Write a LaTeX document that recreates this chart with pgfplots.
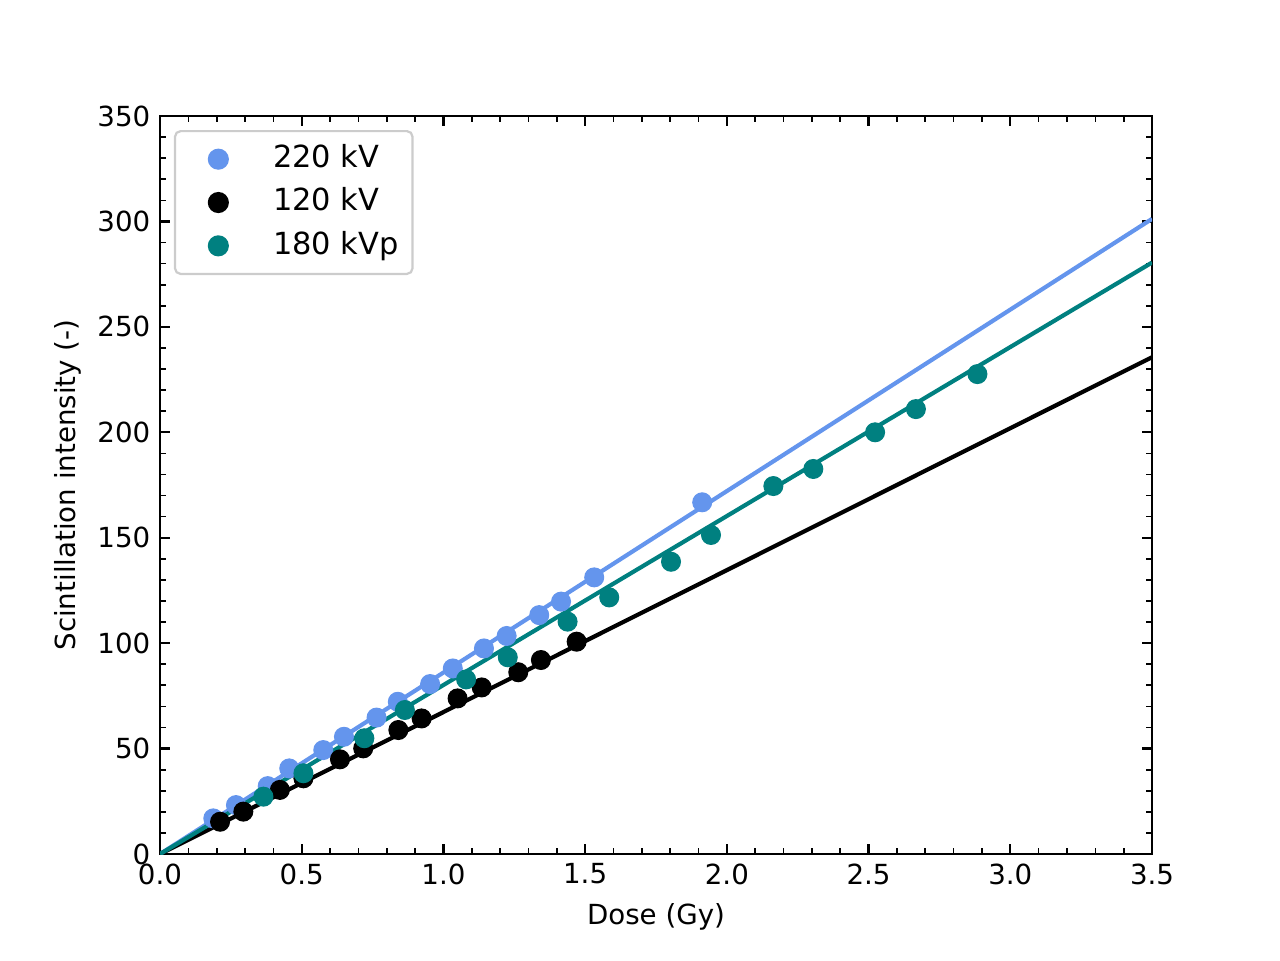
\documentclass[border=0pt]{standalone}
\usepackage{pgfplots}
\pgfplotsset{compat=1.18}
\usepackage{fontspec}
\setmainfont{DejaVu Sans}
\definecolor{cblue}{HTML}{6495ED}
\definecolor{cteal}{HTML}{008080}
\definecolor{lgedge}{gray}{0.8}
\begin{document}
\begin{tikzpicture}
\begin{axis}[
  scale only axis,
  width=357.12bp, height=265.68bp,
  xmin=0, xmax=3.5, ymin=0, ymax=350,
  xtick={0,0.5,...,3.5},
  ytick={0,50,...,350},
  minor x tick num=4,
  minor y tick num=4,
  tick align=inside,
  xtick pos=both, ytick pos=both,
  major tick length=3.5bp, minor tick length=2bp,
  every major tick/.style={line width=0.8bp, black},
  every minor tick/.style={line width=0.6bp, black},
  axis line style={line width=0.8bp},
  tick label style={font=\fontsize{10}{12}\selectfont},
  /pgf/number format/assume math mode=true,
  xticklabel style={/pgf/number format/.cd, fixed, fixed zerofill, precision=1},
  yticklabel style={/pgf/number format/.cd, fixed, precision=0},
  scaled ticks=false,
  xlabel={Dose (Gy)},
  ylabel={Scintillation intensity (-)},
  label style={font=\fontsize{10}{12}\selectfont},
  xlabel style={yshift=0bp},
  ylabel style={yshift=-1bp},
  legend cell align=left,
  legend style={
    at={(rel axis cs:0.014,0.981)}, anchor=north west,
    draw=lgedge, line width=0.8bp, rounded corners=2bp,
    fill=white,
    font=\fontsize{11}{13}\selectfont,
    inner xsep=4bp, inner ysep=3.8bp,
    row sep=3bp,
    nodes={inner sep=1bp, text height=8.3bp, text depth=2.3bp},
  },
  legend image code/.code={\draw[#1] plot coordinates {(11.2bp,0cm)};\path (0cm,0cm) (29.5bp,0cm);},
]
\addplot[only marks, mark=*, mark size=3.4bp, cblue, mark options={draw=cblue, fill=cblue}] coordinates {
(0.188,16.9) (0.268,23.2) (0.380,32.2) (0.456,40.6) (0.576,49.3) (0.649,55.6)
(0.764,64.7) (0.839,72.2) (0.953,80.6) (1.033,88.0) (1.143,97.5) (1.223,103.4)
(1.338,113.3) (1.415,119.7) (1.532,131.2) (1.913,166.8)
};
\addlegendentry{220 kV}
\addplot[only marks, mark=*, mark size=3.4bp, black, mark options={draw=black, fill=black}] coordinates {
(0.212,15.3) (0.294,20.1) (0.423,30.4) (0.506,35.9) (0.635,44.9) (0.717,50.1)
(0.841,58.8) (0.923,64.3) (1.050,73.8) (1.135,79.0) (1.264,86.2) (1.344,92.0)
(1.470,100.7)
};
\addlegendentry{120 kV}
\addplot[only marks, mark=*, mark size=3.4bp, cteal, mark options={draw=cteal, fill=cteal}] coordinates {
(0.365,27.2) (0.506,38.3) (0.721,54.9) (0.864,68.3) (1.080,82.8) (1.227,93.3)
(1.438,110.2) (1.585,121.7) (1.803,138.6) (1.944,151.3) (2.164,174.5) (2.305,182.6)
(2.523,200.0) (2.667,211.0) (2.884,227.6)
};
\addlegendentry{180 kVp}
\addplot[cblue, line width=1.5bp, forget plot] coordinates {(0,0) (3.5,301.2)};
\addplot[black, line width=1.5bp, forget plot] coordinates {(0,0) (3.5,235.6)};
\addplot[cteal, line width=1.5bp, forget plot] coordinates {(0,0) (3.5,280.5)};
\coordinate (ll) at (rel axis cs:0,0);
\coordinate (ur) at (rel axis cs:1,1);
\end{axis}
\path[use as bounding box] ([shift={(-57.6bp,-38.16bp)}]ll) rectangle ([shift={(46.08bp,41.76bp)}]ur);
\end{tikzpicture}
\end{document}
